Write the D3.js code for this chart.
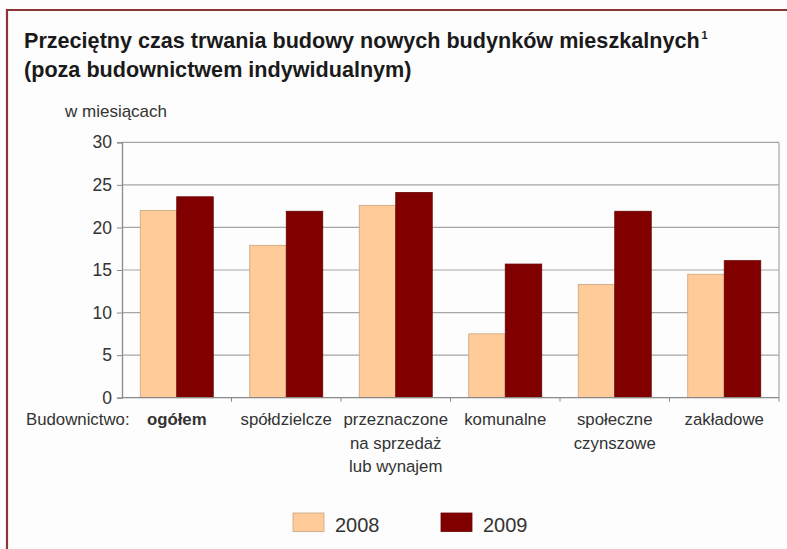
<!DOCTYPE html>
<html lang="pl">
<head>
<meta charset="utf-8">
<title>Przeciętny czas trwania budowy</title>
<script src="https://d3js.org/d3.v7.min.js"></script>
<style>
body { margin: 0; background: #fff; }
svg { display: block; font-family: "Liberation Sans", Arial, sans-serif; }
</style>
</head>
<body>
<div id="vis"></div>
<script>

// data (months)
var categories = ['ogółem', 'spółdzielcze', 'przeznaczone\nna sprzedaż\nlub wynajem', 'komunalne', 'społeczne\nczynszowe', 'zakładowe'];
var years = ['2008', '2009'];
var values2008 = [22.0, 17.9, 22.6, 7.5, 13.3, 14.5];
var values2009 = [23.6, 21.9, 24.1, 15.7, 21.9, 16.1];
var yTicks = [0, 5, 10, 15, 20, 25, 30];

var colors = { '2008': '#ffcc99', '2009': '#800000' };
var strokes = { '2008': '#c9a27e', '2009': '#6a0000' };

var width = 787, height = 549;
var plot = { left: 122, right: 779, top: 142.3, bottom: 397.7 };

var svg = d3.select('#vis').append('svg')
	.attr('width', width)
	.attr('height', height);

svg.append('rect').attr('width', width).attr('height', height).attr('fill', '#fdfdfd');

// frame (top + left only are visible)
svg.append('path')
	.attr('d', 'M7,549 V10 H787')
	.attr('fill', 'none')
	.attr('stroke', '#8c3535')
	.attr('stroke-width', 2.2);

/* Title */
var title = svg.append('text')
	.attr('x', 24)
	.attr('y', 48)
	.attr('font-size', 21.6)
	.attr('font-weight', 'bold')
	.attr('fill', '#1a1a1a');
title.append('tspan').text('Przeciętny czas trwania budowy nowych budynków mieszkalnych');
title.append('tspan').attr('font-size', 11).attr('dy', -9).attr('dx', 2).text('1');

svg.append('text')
	.attr('x', 24)
	.attr('y', 77)
	.attr('font-size', 21.6)
	.attr('font-weight', 'bold')
	.attr('fill', '#1a1a1a')
	.text('(poza budownictwem indywidualnym)');

svg.append('text')
	.attr('x', 65)
	.attr('y', 117)
	.attr('font-size', 17)
	.attr('fill', '#333')
	.text('w miesiącach');

/* Scales */
var x0 = d3.scaleBand()
	.domain(categories)
	.range([plot.left, plot.right])
	.paddingInner(0)
	.paddingOuter(0);

var x1 = d3.scaleBand()
	.domain(years)
	.range([0, x0.bandwidth()])
	.paddingInner(0)
	.paddingOuter(0.5);

var y = d3.scaleLinear()
	.domain([0, 30])
	.range([plot.bottom, plot.top]);

/* Grid */
svg.append('g')
	.selectAll('line')
	.data(yTicks.filter(function(d) { return d > 0; }))
	.enter().append('line')
		.attr('x1', plot.left)
		.attr('x2', plot.right)
		.attr('y1', function(d) { return y(d); })
		.attr('y2', function(d) { return y(d); })
		.attr('stroke', '#a6a6a6')
		.attr('stroke-width', 1.2);

svg.append('line')
	.attr('x1', plot.right).attr('x2', plot.right)
	.attr('y1', y(30)).attr('y2', y(0))
	.attr('stroke', '#a6a6a6')
	.attr('stroke-width', 1.2);

/* Bars */
var groups = svg.append('g')
	.selectAll('g')
	.data(categories)
	.enter().append('g')
		.attr('transform', function(d) { return 'translate(' + x0(d) + ',0)'; });

groups.selectAll('rect')
	.data(function(d, i) {
		return [
			{ year: '2008', value: values2008[i] },
			{ year: '2009', value: values2009[i] }
		];
	})
	.enter().append('rect')
		.attr('x', function(d) { return x1(d.year); })
		.attr('y', function(d) { return y(d.value); })
		.attr('width', x1.bandwidth())
		.attr('height', function(d) { return y(0) - y(d.value); })
		.attr('fill', function(d) { return colors[d.year]; })
		.attr('stroke', function(d) { return strokes[d.year]; })
		.attr('stroke-width', 0.8);

/* Axes */
var yAxis = svg.append('g')
	.attr('transform', 'translate(' + plot.left + ',0)')
	.call(d3.axisLeft(y).tickValues(yTicks).tickSize(5).tickPadding(5));

yAxis.select('.domain').attr('stroke', '#8a8a8a').attr('stroke-width', 1.3);
yAxis.selectAll('.tick line').attr('stroke', '#8a8a8a');
yAxis.selectAll('.tick text')
	.attr('font-size', 17.5)
	.attr('font-family', '"Liberation Sans", Arial, sans-serif')
	.attr('fill', '#333');

// x axis: line with ticks at category boundaries
var bounds = categories.map(function(d) { return x0(d); }).concat([plot.right]);

svg.append('line')
	.attr('x1', plot.left).attr('x2', plot.right)
	.attr('y1', y(0)).attr('y2', y(0))
	.attr('stroke', '#8a8a8a')
	.attr('stroke-width', 1.3);

svg.append('g')
	.selectAll('line')
	.data(bounds.slice(1))
	.enter().append('line')
		.attr('x1', function(d) { return d; })
		.attr('x2', function(d) { return d; })
		.attr('y1', y(0))
		.attr('y2', y(0) + 4)
		.attr('stroke', '#8a8a8a');

var catLabels = svg.append('g')
	.selectAll('text')
	.data(categories)
	.enter().append('text')
		.attr('x', function(d) { return x0(d) + x0.bandwidth() / 2; })
		.attr('y', 425)
		.attr('text-anchor', 'middle')
		.attr('font-size', 16.8)
		.attr('fill', '#333')
		.attr('font-weight', function(d, i) { return i === 0 ? 'bold' : 'normal'; });

catLabels.selectAll('tspan')
	.data(function(d) { return d.split('\n'); })
	.enter().append('tspan')
		.attr('x', function() { return d3.select(this.parentNode).attr('x'); })
		.attr('dy', function(d, i) { return i === 0 ? 0 : 23.5; })
		.text(function(d) { return d; });

svg.append('text')
	.attr('x', 26)
	.attr('y', 425)
	.attr('font-size', 16.8)
	.attr('fill', '#333')
	.text('Budownictwo:');

/* Legend */
var legendX = [293, 441];
var legend = svg.append('g')
	.selectAll('g')
	.data(years)
	.enter().append('g')
		.attr('transform', function(d, i) { return 'translate(' + legendX[i] + ',513)'; });

legend.append('rect')
	.attr('width', 31)
	.attr('height', 18.5)
	.attr('fill', function(d) { return colors[d]; })
	.attr('stroke', function(d) { return strokes[d]; })
	.attr('stroke-width', 0.8);

legend.append('text')
	.attr('x', 42)
	.attr('y', 18.5)
	.attr('font-size', 20)
	.attr('fill', '#333')
	.text(function(d) { return d; });

</script>
</body>
</html>
